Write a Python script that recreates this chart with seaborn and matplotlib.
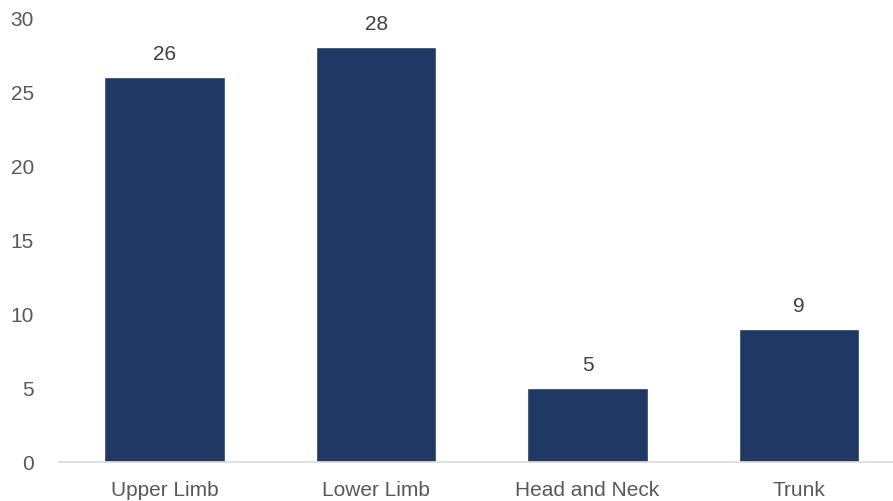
import matplotlib
matplotlib.use("Agg")
import matplotlib.pyplot as plt
import seaborn as sns
import pandas as pd

categories = ["Upper Limb", "Lower Limb", "Head and Neck", "Trunk"]
counts = [26, 28, 5, 9]
y_ticks = [0, 5, 10, 15, 20, 25, 30]

sns.set_theme(style="white")
plt.rcParams["font.family"] = ["Liberation Sans", "DejaVu Sans"]

text_color = "#595959"
bar_color = "#1F3864"

df = pd.DataFrame({"region": categories, "count": counts})

fig = plt.figure(figsize=(8.93, 5.02), dpi=100)
ax = fig.add_axes([0.066, 0.0777, 0.947, 0.886])

sns.barplot(data=df, x="region", y="count", color=bar_color, width=0.57,
            saturation=1, ax=ax)

ax.set_ylim(0, 30)
ax.set_yticks(y_ticks)
ax.set_xlabel("")
ax.set_ylabel("")

for spine in ["top", "right", "left"]:
    ax.spines[spine].set_visible(False)
ax.spines["bottom"].set_color("#D9D9D9")
ax.spines["bottom"].set_linewidth(1.2)

ax.tick_params(axis="y", length=0, pad=18, labelsize=15, labelcolor=text_color)
ax.tick_params(axis="x", length=0, pad=13, labelsize=15, labelcolor=text_color)

for i, v in enumerate(counts):
    ax.annotate(str(v), xy=(i, v), xytext=(0, 10), textcoords="offset points",
                ha="center", va="bottom", fontsize=15, color="#404040")

fig.savefig("out.png", dpi=100)
